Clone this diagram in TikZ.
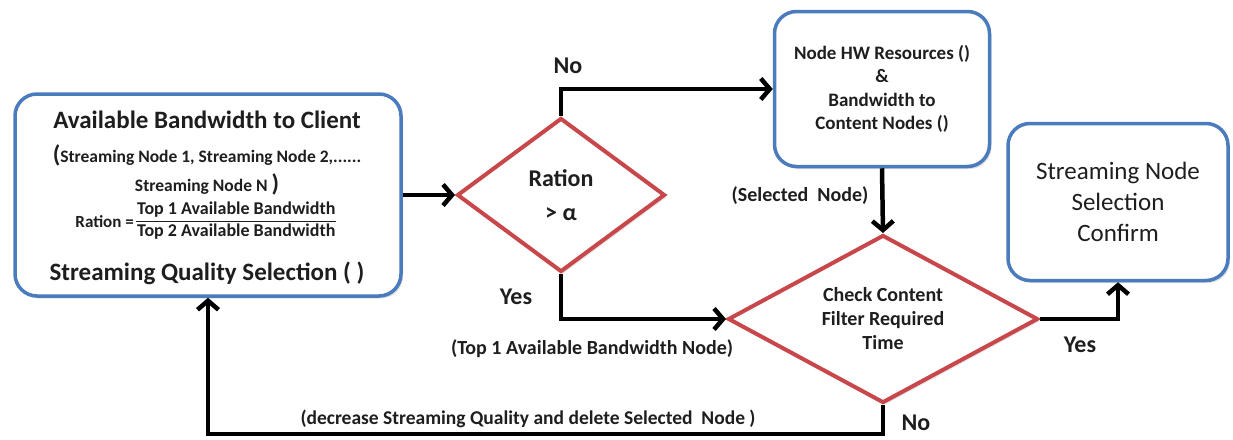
\documentclass[tikz,border=0pt]{standalone}
\usepackage{fontspec}
\setmainfont{Carlito}
\usetikzlibrary{arrows.meta,shapes.geometric,shadows}
\definecolor{boxblue}{HTML}{4A7BBD}
\definecolor{dred}{HTML}{C8474A}
\definecolor{txt}{HTML}{1E1E1E}
\newcommand{\fs}[2]{\fontsize{#1}{#2}\selectfont}
\begin{document}
\begin{tikzpicture}[x=1pt,y=-1pt,
  bbox/.style={draw=boxblue, line width=3.5pt, rounded corners=22pt, fill=white,
    drop shadow={shadow xshift=2pt, shadow yshift=-2.5pt, opacity=0.25}},
  dia/.style={diamond, draw=dred, line width=4pt, fill=white, inner sep=0pt,
    drop shadow={shadow xshift=2pt, shadow yshift=-2.5pt, opacity=0.2}},
  arr/.style={draw=black, line width=4.5pt, -{Straight Barb[length=9pt,width=21pt]}},
  t/.style={text=txt, inner sep=0pt, align=center},
  bt/.style={t, font=\bfseries}
]
\useasboundingbox (0,0) rectangle (1233,439);

% boxes
\node[bbox, minimum width=386pt, minimum height=202pt] (src) at (208,195) {};
\node[bbox, minimum width=215pt, minimum height=155pt] (hw) at (882,89) {};
\node[bbox, minimum width=220pt, minimum height=157pt] (conf) at (1118,202) {};
% diamonds
\node[dia, minimum width=208pt, minimum height=154pt] (d1) at (561,195) {};
\node[dia, minimum width=310pt, minimum height=168pt] (d2) at (883,319) {};

% texts in the source box
\node[bt, font=\bfseries\fs{25}{30}] (s1) at (207,120) {Available Bandwidth to Client};
\node[bt, font=\bfseries\fs{17.5}{21}] (s2) at (207,155) {{\fs{24}{24}(}Streaming Node 1, Streaming Node 2,......};
\node[bt, font=\bfseries\fs{17.5}{21}] (s3) at (207,184) {Streaming Node N {\fs{24}{24})}};
\node[bt, font=\bfseries\fs{17}{20}, anchor=east] (s4) at (134,222) {Ration =};
\node[bt, font=\bfseries\fs{18}{21}, anchor=west] (s5) at (136,221)
  {\setlength{\tabcolsep}{1pt}\renewcommand{\arraystretch}{1.05}\begin{tabular}{c}Top 1 Available Bandwidth\\\hline Top 2 Available Bandwidth\end{tabular}};
\node[bt, font=\bfseries\fs{25}{30}] (s6) at (207,273) {Streaming Quality Selection ( )};

% texts in other shapes
\node[bt, font=\bfseries\fs{19}{23.5}] (hwt) at (hw) {Node HW Resources ()\\\&\\Bandwidth to\\Content Nodes ()};
\node[t, font=\fs{25}{31}] (conft) at (conf) {Streaming Node\\Selection\\Confirm};
\node[bt, font=\bfseries\fs{24}{34}] (d1t) at (d1) {Ration\\> α};
\node[bt, font=\bfseries\fs{20}{24}] (d2t) at (d2) {Check Content\\Filter Required\\Time};

% connectors
\coordinate (fb) at (883,434);
\draw[arr] (src.east) -- (d1.west);
\draw[arr] (d1.north) |- (hw.west);
\draw[arr] (d1.south) |- (d2.west);
\draw[arr] (hw.south) -- (d2.north);
\draw[arr] (d2.east) -| (conf.south);
\draw[arr] (d2.south) -- (fb) -| (src.south);

% connector labels
\node[bt, font=\bfseries\fs{24}{28}] (lno1) at (568,66) {No};
\node[bt, font=\bfseries\fs{24}{28}] (lyes1) at (516,297) {Yes};
\node[bt, font=\bfseries\fs{20}{24}] (ltop) at (592,349) {(Top 1 Available Bandwidth Node)};
\node[bt, font=\bfseries\fs{20}{24}] (lsel) at (800,196) {(Selected\ \ Node)};
\node[bt, font=\bfseries\fs{24}{28}] (lyes2) at (1080,345) {Yes};
\node[bt, font=\bfseries\fs{24}{28}] (lno2) at (916,423) {No};
\node[bt, font=\bfseries\fs{19.5}{24}] (ldec) at (528,419) {(decrease Streaming Quality and delete Selected\ \ Node )};
\end{tikzpicture}
\end{document}
